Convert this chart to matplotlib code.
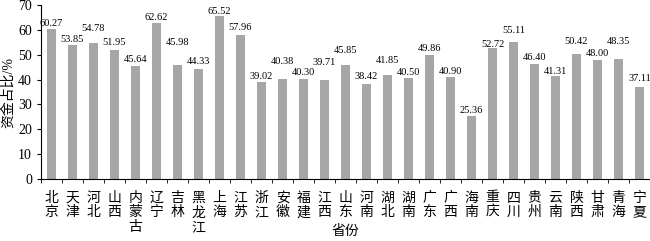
import numpy as np
import matplotlib
matplotlib.use('Agg')
import matplotlib.pyplot as plt
from matplotlib.ticker import FixedLocator

plt.rcParams['font.family'] = ['Liberation Serif', 'Noto Sans CJK SC']

# provinces and their shares
provinces = ['北京', '天津', '河北', '山西', '内蒙古', '辽宁', '吉林', '黑龙江', '上海', '江苏',
             '浙江', '安徽', '福建', '江西', '山东', '河南', '湖北', '湖南', '广东', '广西',
             '海南', '重庆', '四川', '贵州', '云南', '陕西', '甘肃', '青海', '宁夏']
values = [60.27, 53.85, 54.78, 51.95, 45.64, 62.62, 45.98, 44.33, 65.52, 57.96,
          39.02, 40.38, 40.30, 39.71, 45.85, 38.42, 41.85, 40.50, 49.86, 40.90,
          25.36, 52.72, 55.11, 46.40, 41.31, 50.42, 48.00, 48.35, 37.11]
# how far (px) each value label sits above its bar, staggered like the original
label_lift = [6, 6, 14, 7, 6, 6, 22, 7, 5, 7,
              6, 17, 6, 18, 15, 7, 15, 6, 7, 6,
              6, 4, 12, 6, 5, 12, 6, 17, 8]

fig = plt.figure(figsize=(6.5, 2.41), dpi=100)
ax = fig.add_axes([0.063, 0.257, 0.937, 0.722])

x = np.arange(len(provinces))
ax.bar(x, values, width=0.4, color='#a6a6a6')

for xi, v, lift in zip(x, values, label_lift):
    ax.annotate('%.2f' % v, (xi, v), xytext=(0, lift * 0.72), textcoords='offset points',
                ha='center', va='center', fontsize=7.5)

ax.set_xlim(-0.5, len(provinces) - 0.5)
ax.set_ylim(0, 70)
ax.set_yticks(range(0, 71, 10))
ax.tick_params(axis='y', labelsize=10, direction='out', length=3)

ax.set_xticks(x)
ax.set_xticklabels(['\n'.join(p) for p in provinces], fontsize=10, linespacing=1.15)
ax.tick_params(axis='x', which='major', length=0, pad=9)
ax.xaxis.set_minor_locator(FixedLocator(np.arange(-0.5, len(provinces), 1)))
ax.tick_params(axis='x', which='minor', length=3, direction='out')

ax.spines['top'].set_visible(False)
ax.spines['right'].set_visible(False)

ax.set_ylabel('资金占比/%', fontsize=10, labelpad=2)
ax.set_xlabel('省份', fontsize=10)
ax.xaxis.set_label_coords(0.5, -0.265)

fig.savefig('out.png', dpi=100)
